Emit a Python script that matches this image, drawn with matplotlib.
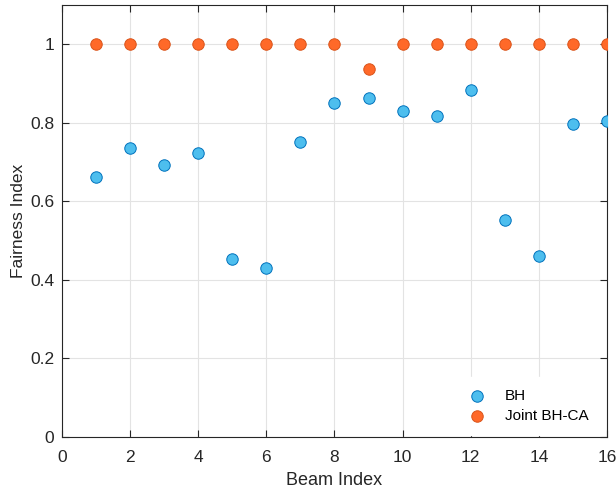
import numpy as np
import matplotlib.pyplot as plt

plt.rcParams['font.family'] = ['Liberation Sans', 'DejaVu Sans']

beam_idx = np.arange(1, 17)
bh = [0.661, 0.736, 0.692, 0.723, 0.453, 0.429, 0.750, 0.850,
      0.862, 0.831, 0.817, 0.883, 0.551, 0.460, 0.796, 0.804]
joint = [1, 1, 1, 1, 1, 1, 1, 1, 0.936, 1, 1, 1, 1, 1, 1, 1]

DARK = '#262626'

fig = plt.figure(figsize=(6.16, 4.95), dpi=100)
ax = fig.add_axes([0.1006, 0.1178, 0.8848, 0.8721])

ax.scatter(beam_idx, bh, s=68, color='#4DBEEE', edgecolors='#0072BD',
           linewidths=0.7, zorder=3, label='BH')
ax.scatter(beam_idx, joint, s=68, color='#FF6929', edgecolors='#D95319',
           linewidths=0.7, zorder=3, label='Joint BH-CA')

ax.set_xlim(0, 16)
ax.set_ylim(0, 1.1)
ax.set_xticks(np.arange(0, 17, 2))
ax.set_yticks([0, 0.2, 0.4, 0.6, 0.8, 1])
ax.set_yticklabels(['0', '0.2', '0.4', '0.6', '0.8', '1'])

ax.grid(True, color='#e3e3e3', linewidth=0.8, zorder=0)
ax.set_axisbelow(True)
ax.tick_params(direction='in', length=5, width=0.8, colors=DARK,
               labelsize=12.5, top=True, right=True)
ax.tick_params(axis='x', pad=9.5)
ax.tick_params(axis='y', pad=5.5)
for sp in ax.spines.values():
    sp.set_color(DARK)
    sp.set_linewidth(0.8)

ax.set_xlabel('Beam Index', fontsize=13, color=DARK, labelpad=5)
ax.set_ylabel('Fairness Index', fontsize=12.5, color=DARK, labelpad=3)

leg = ax.legend(loc='lower right', bbox_to_anchor=(1.0, -0.01), frameon=True,
                fontsize=11, handletextpad=0.85, borderpad=0.8, labelspacing=0.35,
                borderaxespad=0.4)
leg.get_frame().set_edgecolor('white')
leg.get_frame().set_facecolor('white')
leg.get_frame().set_alpha(1)
leg.get_frame().set_boxstyle('square', pad=0)

fig.savefig('out.png', dpi=100)
